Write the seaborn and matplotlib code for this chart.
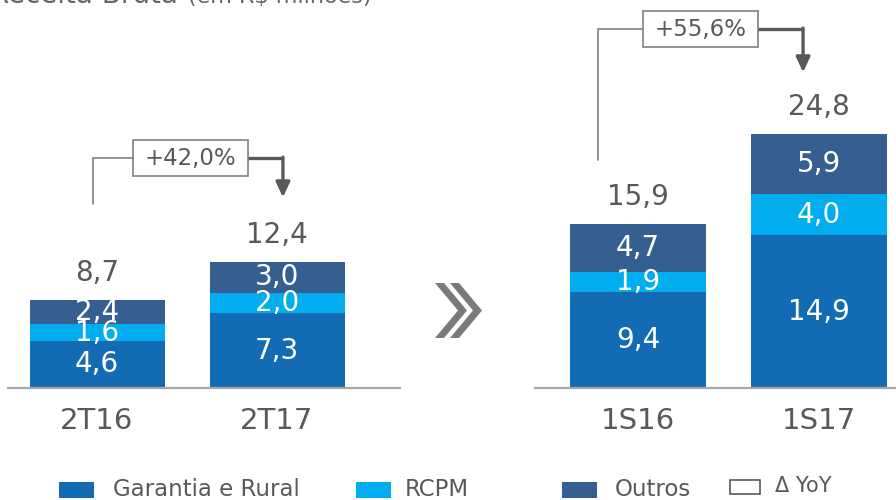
import numpy as np
import pandas as pd
import matplotlib
matplotlib.use("Agg")
import matplotlib.pyplot as plt
from matplotlib.patches import Rectangle, Polygon
import seaborn as sns

# ---------------- data ----------------
cats_q = ["2T16", "2T17"]
cats_s = ["1S16", "1S17"]
garantia_q = [4.6, 7.3]
rcpm_q = [1.6, 2.0]
outros_q = [2.4, 3.0]
total_q = [8.7, 12.4]
garantia_s = [9.4, 14.9]
rcpm_s = [1.9, 4.0]
outros_s = [4.7, 5.9]
total_s = [15.9, 24.8]
growth_labels = ["+42,0%", "+55,6%"]
series_names = ["Garantia e Rural", "RCPM", "Outros"]

# ---------------- style ----------------
sns.set_style("white")
plt.rcParams["font.family"] = ["DejaVu Sans"]
C_GAR = "#136CB3"
C_RCPM = "#00AEEF"
C_OUT = "#365F91"
C_TXT = "#595959"
C_LINE = "#808080"

W, H = 896, 500
fig = plt.figure(figsize=(W / 100, H / 100), dpi=100)


def fx(x):
    return x / W


def fy(y):
    return 1 - y / H


YMAX = 388 / 10.25
ax_l = fig.add_axes([fx(8), fy(388), 392 / W, 388 / H])
ax_r = fig.add_axes([fx(535), fy(388), 361 / W, 388 / H])


def fmt(v):
    return f"{v:.1f}".replace(".", ",")


def panel(ax, cats, g, r, o, tot, xlim, ann):
    g = np.array(g)
    r = np.array(r)
    o = np.array(o)
    df = pd.DataFrame({"cat": cats, "g": g, "gr": g + r, "gro": g + r + o})
    for col, c in [("gro", C_OUT), ("gr", C_RCPM), ("g", C_GAR)]:
        sns.barplot(data=df, x="cat", y=col, order=cats, color=c, saturation=1,
                    width=0.75, edgecolor="none", linewidth=0, ax=ax)
    for i in range(len(cats)):
        bottoms = [0, g[i], g[i] + r[i]]
        for b, v in zip(bottoms, [g[i], r[i], o[i]]):
            ax.text(i, b + v / 2, fmt(v), ha="center", va="center",
                    color="white", fontsize=20)
        ax.annotate(fmt(tot[i]), (i, g[i] + r[i] + o[i]), xytext=(0, 19.5),
                    textcoords="offset points", ha="center", va="center",
                    color=C_TXT, fontsize=20)
    ax.set_xlim(*xlim)
    ax.set_ylim(0, YMAX)
    ax.set_xlabel("")
    ax.set_ylabel("")
    ax.set_yticks([])
    for s in ["top", "right", "left"]:
        ax.spines[s].set_visible(False)
    ax.spines["bottom"].set_color("#A6A6A6")
    ax.spines["bottom"].set_linewidth(1.6)
    ax.tick_params(axis="x", length=0, pad=14, labelsize=21, labelcolor=C_TXT)

    # growth annotation
    (x0, yb, ylev, bx, bw, bh, xa, ytip, label) = ann
    ax.plot([x0, x0, bx - bw / 2], [yb, ylev, ylev], color=C_LINE, lw=1.2,
            clip_on=False, solid_joinstyle="miter")
    ax.add_patch(Rectangle((bx - bw / 2, ylev - bh / 2), bw, bh, facecolor="white",
                           edgecolor=C_LINE, lw=1.2, clip_on=False))
    ax.text(bx, ylev, label, ha="center", va="center", color=C_TXT, fontsize=16.5)
    ax.plot([bx + bw / 2, xa], [ylev, ylev], color=C_TXT, lw=2.4, clip_on=False,
            solid_capstyle="butt")
    ax.annotate("", xy=(xa, ytip), xytext=(xa, ylev + 0.12),
                arrowprops=dict(arrowstyle="-|>,head_length=0.9,head_width=0.42",
                                color=C_TXT, lw=2.4, shrinkA=0, shrinkB=0),
                annotation_clip=False)


panel(ax_l, cats_q, garantia_q, rcpm_q, outros_q, total_q,
      (-(97 - 8) / 180, 1 + (400 - 277) / 180),
      (-0.02, 18.0, 22.4, 0.52, 0.639, 3.51, 1.033, 18.6, growth_labels[0]))
panel(ax_r, cats_s, garantia_s, rcpm_s, outros_s, total_s,
      (-(638 - 535) / 181, 1 + (896 - 819) / 181),
      (-0.22, 22.2, 35.0, 0.345, 0.635, 3.51, 0.912, 30.8, growth_labels[1]))

# chevrons
for x0 in (435, 450):
    pts = [(x0, 283), (x0 + 9, 283), (x0 + 32, 310.5), (x0 + 9, 338), (x0, 338),
           (x0 + 23, 310.5)]
    fig.patches.append(Polygon([(fx(a), fy(b)) for a, b in pts], closed=True,
                               transform=fig.transFigure, facecolor="#7A7A7A",
                               edgecolor="none", figure=fig))

# title (cropped at top)
fig.text(fx(178), fy(3), "Receita Bruta", ha="right", va="baseline",
         fontsize=20, color="#666666")
fig.text(fx(188), fy(3), "(em R$ milhões)", ha="left", va="baseline",
         fontsize=16, color="#666666")

# legend
leg = [(59, 113, C_GAR, series_names[0]), (356, 405, C_RCPM, series_names[1]),
       (562, 615, C_OUT, series_names[2])]
for xs, xt, c, name in leg:
    fig.patches.append(Rectangle((fx(xs), fy(498)), 35 / W, 16 / H,
                                 transform=fig.transFigure, facecolor=c,
                                 edgecolor="none", figure=fig))
    fig.text(fx(xt), fy(490), name, ha="left", va="center", fontsize=16.5,
             color=C_TXT)
fig.patches.append(Rectangle((fx(730), fy(494)), 30 / W, 14 / H,
                             transform=fig.transFigure, facecolor="white",
                             edgecolor="#595959", lw=1.2, figure=fig))
fig.text(fx(775), fy(486), "Δ YoY", ha="left", va="center", fontsize=15,
         color=C_TXT)

fig.savefig("out.png", dpi=100)
